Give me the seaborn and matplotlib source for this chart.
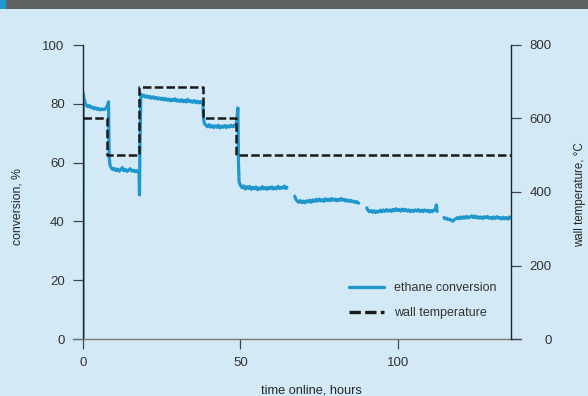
import numpy as np
import pandas as pd
import seaborn as sns
import matplotlib.pyplot as plt
from matplotlib.patches import Rectangle

# ethane conversion (4 pieces, gaps between runs)
seg1_t = [0.0, 0.1, 0.3, 0.6, 1.0, 1.5, 2.0, 2.5, 3.0, 3.5, 4.0, 4.5, 5.0, 5.5, 6.0, 6.5, 7.0, 7.5, 7.9, 8.1,
          8.3, 8.6, 9.0, 9.5, 10.0, 10.5, 11.0, 11.5, 12.0, 12.5, 13.0, 13.5, 14.0, 14.5, 15.0, 15.5, 16.0, 16.5,
          17.0, 17.5, 17.8, 17.95,
          18.1, 18.4, 18.8, 19.3, 19.8, 20.3, 20.8, 21.3, 21.8, 22.3, 22.8, 23.3, 23.8, 24.3, 24.8, 25.3, 25.8,
          26.3, 26.8, 27.3, 27.8, 28.3, 28.8, 29.3, 29.8, 30.3, 30.8, 31.3, 31.8, 32.3, 32.8, 33.3, 33.8, 34.3,
          34.8, 35.3, 35.8, 36.3, 36.8, 37.3, 37.8, 38.1,
          38.3, 38.6, 39.0, 39.5, 40.0, 40.5, 41.0, 41.5, 42.0, 42.5, 43.0, 43.5, 44.0, 44.5, 45.0, 45.5, 46.0,
          46.5, 47.0, 47.5, 48.0, 48.5, 48.9, 49.2,
          49.4, 49.6, 50.0, 50.5, 51.0, 51.5, 52.0, 52.5, 53.0, 53.5, 54.0, 54.5, 55.0, 55.5, 56.0, 56.5, 57.0,
          57.5, 58.0, 58.5, 59.0, 59.5, 60.0, 60.5, 61.0, 61.5, 62.0, 62.5, 63.0, 63.5, 64.0, 64.5, 64.8]
seg1_v = [0.0, 83.6, 82.0, 80.4, 79.6, 79.0, 79.4, 78.7, 78.9, 78.3, 78.7, 78.1, 78.4, 77.9, 78.3, 78.0, 78.2, 78.8, 79.6, 80.7,
          62.0, 59.0, 58.2, 57.6, 58.0, 57.3, 57.8, 57.1, 57.6, 58.3, 57.2, 57.7, 57.0, 57.5, 57.9, 57.1, 57.4, 56.9,
          57.3, 56.8, 56.5, 49.0,
          66.0, 83.3, 82.6, 82.9, 82.3, 82.7, 82.1, 82.5, 81.9, 82.4, 81.8, 82.2, 81.6, 82.0, 81.5, 81.9, 81.3,
          81.8, 81.2, 81.6, 81.0, 81.5, 81.1, 81.7, 80.9, 81.3, 80.8, 81.4, 80.7, 81.2, 80.6, 81.5, 80.7, 81.0,
          80.5, 81.1, 80.4, 80.9, 80.3, 80.8, 80.4, 80.6,
          75.0, 73.2, 72.8, 72.2, 72.9, 72.1, 72.6, 71.9, 72.5, 72.0, 72.7, 71.8, 72.4, 72.0, 72.6, 71.9, 72.5,
          72.1, 72.7, 72.2, 72.6, 72.4, 74.5, 78.6,
          60.0, 53.5, 52.3, 51.5, 52.1, 51.0, 51.8, 51.2, 51.9, 50.9, 51.6, 51.1, 51.7, 50.8, 51.4, 51.0, 51.8,
          51.1, 51.5, 50.9, 51.6, 51.2, 51.7, 51.0, 51.5, 51.1, 51.9, 51.2, 51.6, 51.3, 52.0, 51.2, 51.6]

seg2_t = [67.3, 67.6, 68.0, 68.5, 69.0, 69.5, 70.0, 70.5, 71.0, 71.5, 72.0, 72.5, 73.0, 73.5, 74.0, 74.5, 75.0,
          75.5, 76.0, 76.5, 77.0, 77.5, 78.0, 78.5, 79.0, 79.5, 80.0, 80.5, 81.0, 81.5, 82.0, 82.5, 83.0, 83.5,
          84.0, 84.5, 85.0, 85.5, 86.0, 86.5, 87.0, 87.6]
seg2_v = [48.6, 47.6, 47.0, 46.5, 47.1, 46.4, 46.9, 46.3, 47.0, 46.6, 47.2, 46.5, 47.3, 46.8, 47.5, 46.9, 47.6,
          47.0, 47.4, 46.8, 47.7, 47.1, 47.5, 47.0, 47.8, 47.2, 47.6, 47.0, 47.5, 47.1, 47.8, 47.2, 47.5, 46.9,
          47.3, 46.8, 47.2, 46.7, 46.9, 46.4, 46.7, 46.2]

seg3_t = [90.2, 90.5, 91.0, 91.5, 92.0, 92.5, 93.0, 93.5, 94.0, 94.5, 95.0, 95.5, 96.0, 96.5, 97.0, 97.5, 98.0,
          98.5, 99.0, 99.5, 100.0, 100.5, 101.0, 101.5, 102.0, 102.5, 103.0, 103.5, 104.0, 104.5, 105.0, 105.5,
          106.0, 106.5, 107.0, 107.5, 108.0, 108.5, 109.0, 109.5, 110.0, 110.5, 111.0, 111.5, 112.0, 112.3, 112.5]
seg3_v = [44.6, 43.8, 43.3, 43.7, 43.1, 43.6, 43.0, 43.5, 43.2, 43.8, 43.3, 43.9, 43.4, 44.0, 43.5, 43.9, 43.4,
          44.1, 43.6, 44.3, 43.7, 44.0, 43.5, 44.2, 43.6, 44.1, 43.5, 43.9, 43.3, 43.8, 43.4, 43.9,
          43.5, 44.0, 43.4, 43.8, 43.3, 43.9, 43.5, 43.8, 43.2, 43.7, 43.3, 43.8, 44.2, 45.6, 43.4]

seg4_t = [114.7, 115.0, 115.5, 116.0, 116.5, 117.0, 117.5, 118.0, 118.5, 119.0, 119.5, 120.0, 120.5, 121.0,
          121.5, 122.0, 122.5, 123.0, 123.5, 124.0, 124.5, 125.0, 125.5, 126.0, 126.5, 127.0, 127.5, 128.0,
          128.5, 129.0, 129.5, 130.0, 130.5, 131.0, 131.5, 132.0, 132.5, 133.0, 133.5, 134.0, 134.5, 135.0,
          135.5, 135.9]
seg4_v = [41.3, 40.9, 41.1, 40.6, 40.8, 40.3, 40.1, 40.6, 40.9, 41.3, 40.9, 41.5, 41.0, 41.6,
          41.1, 41.7, 41.2, 41.5, 41.9, 41.3, 41.8, 41.2, 41.6, 41.1, 41.5, 41.0, 41.6, 41.2,
          41.7, 41.1, 41.4, 40.9, 41.5, 41.0, 41.6, 41.1, 41.3, 40.8, 41.4, 40.9, 41.3, 40.8,
          41.5, 41.1]

# wall temperature set points
temp_t = [0, 7.5, 17.9, 38.2, 48.7, 136]
temp_v = [600, 500, 685, 600, 500, 500]

bg = "#d3eaf6"
blue = "#1f97cc"

conv = pd.concat([
    pd.DataFrame({"t": t, "conv": v, "seg": i})
    for i, (t, v) in enumerate([(seg1_t, seg1_v), (seg2_t, seg2_v), (seg3_t, seg3_v), (seg4_t, seg4_v)])
])
temp = pd.DataFrame({"t": temp_t, "temp": temp_v})

sns.set_style("ticks")
plt.rcParams["font.family"] = ["Liberation Sans", "DejaVu Sans"]
plt.rcParams["text.color"] = "#333333"

fig = plt.figure(figsize=(5.88, 3.96), dpi=100, facecolor=bg)
ax = fig.add_axes([83 / 588, 1 - 339 / 396, 428 / 588, 294 / 396])
ax.set_facecolor(bg)
ax2 = ax.twinx()

sns.lineplot(data=conv, x="t", y="conv", units="seg", estimator=None, sort=False,
             color=blue, lw=2.3, ax=ax)
sns.lineplot(data=temp, x="t", y="temp", sort=False, drawstyle="steps-post",
             color="#1a1a1a", lw=1.8, linestyle=(0, (3.4, 1.3)), ax=ax2)

ax.set_xlim(0, 136)
ax.set_ylim(0, 100)
ax2.set_ylim(0, 800)
ax.set_xticks([0, 50, 100])
ax.set_yticks(range(0, 101, 20))
ax2.set_yticks(range(0, 801, 200))

for a in (ax, ax2):
    a.spines["top"].set_visible(False)
ax.spines["right"].set_visible(False)
ax2.spines["left"].set_visible(False)
ax2.spines["bottom"].set_visible(False)
ax.spines["left"].set_color("#222222")
ax2.spines["right"].set_color("#222222")
ax.spines["bottom"].set_color("#777777")
ax.spines["bottom"].set_bounds(-3.2, 139.2)
for s in ("left", "bottom"):
    ax.spines[s].set_linewidth(1.0)
ax2.spines["right"].set_linewidth(1.0)

ax.tick_params(axis="both", length=7.2, width=0.9, color="#444444", labelsize=9.5,
               labelcolor="#333333", pad=6)
ax2.tick_params(axis="y", length=7.2, width=0.9, color="#444444", labelsize=9.5,
                labelcolor="#333333", pad=22)
for lab in ax2.get_yticklabels():
    lab.set_horizontalalignment("right")

ax.set_xlabel("time online, hours", fontsize=9.2)
ax.set_ylabel("conversion, %", fontsize=8.8)
ax2.set_ylabel("wall temperature, °C", fontsize=8.3, va="center")
ax.xaxis.set_label_coords(0.533, -0.155)
ax.yaxis.set_label_coords(-0.14, 0.45)
ax2.yaxis.set_label_coords(1.161, 0.49)

h1 = ax.get_lines()[0]
h2 = ax2.get_lines()[0]
leg = ax2.legend([h1, h2], ["ethane conversion", "wall temperature"], frameon=False,
                 loc="lower left", bbox_to_anchor=(0.595, 0.03), handlelength=2.8,
                 fontsize=9, labelspacing=1.0)
for ln in leg.get_lines():
    ln.set_linewidth(2.4)

# header strip
fig.patches.append(Rectangle((0, 1 - 9 / 396), 1, 9 / 396, transform=fig.transFigure,
                             facecolor="#5f6263", edgecolor="none"))
fig.patches.append(Rectangle((0, 1 - 9 / 396), 6 / 588, 9 / 396, transform=fig.transFigure,
                             facecolor="#1e98d3", edgecolor="none"))

fig.savefig("out.png", dpi=100, facecolor=bg)
